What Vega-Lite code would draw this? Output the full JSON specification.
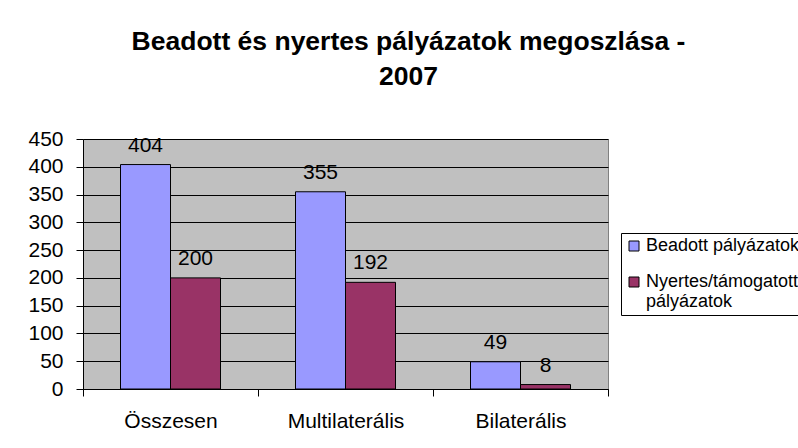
{
  "$schema": "https://vega.github.io/schema/vega-lite/v6.json",
  "width": 525,
  "height": 250,
  "autosize": {"type": "none"},
  "padding": {"left": 83, "top": 139, "right": 190, "bottom": 59},
  "background": "white",
  "title": {
    "text": ["Beadott és nyertes pályázatok megoszlása -", "2007"],
    "font": "Liberation Sans",
    "fontSize": 26.5,
    "fontWeight": "bold",
    "color": "black",
    "lineHeight": 35,
    "anchor": "middle",
    "frame": "group",
    "dx": 63,
    "offset": 38
  },
  "data": {
    "values": [
      {"kategoria": "Összesen", "sorozat": "Beadott pályázatok", "ertek": 404},
      {"kategoria": "Összesen", "sorozat": "Nyertes/támogatott pályázatok", "ertek": 200},
      {"kategoria": "Multilaterális", "sorozat": "Beadott pályázatok", "ertek": 355},
      {"kategoria": "Multilaterális", "sorozat": "Nyertes/támogatott pályázatok", "ertek": 192},
      {"kategoria": "Bilaterális", "sorozat": "Beadott pályázatok", "ertek": 49},
      {"kategoria": "Bilaterális", "sorozat": "Nyertes/támogatott pályázatok", "ertek": 8}
    ]
  },
  "encoding": {
    "x": {
      "field": "kategoria",
      "type": "nominal",
      "sort": ["Összesen", "Multilaterális", "Bilaterális"],
      "scale": {"paddingInner": 0, "paddingOuter": 0},
      "title": null,
      "axis": {
        "labelAngle": 0,
        "labelFont": "Liberation Sans",
        "labelFontSize": 21,
        "labelColor": "black",
        "labelPadding": 14,
        "tickBand": "extent",
        "tickSize": 7,
        "tickColor": "black",
        "domainColor": "black",
        "grid": false
      }
    },
    "xOffset": {
      "field": "sorozat",
      "type": "nominal",
      "sort": ["Beadott pályázatok", "Nyertes/támogatott pályázatok"],
      "scale": {"paddingInner": 0, "paddingOuter": 0.75}
    },
    "y": {
      "field": "ertek",
      "type": "quantitative",
      "scale": {"domain": [0, 450], "nice": false},
      "title": null,
      "axis": {
        "values": [0, 50, 100, 150, 200, 250, 300, 350, 400, 450],
        "labelFont": "Liberation Sans",
        "labelFontSize": 21,
        "labelColor": "black",
        "labelPadding": 13,
        "tickSize": 7,
        "tickColor": "black",
        "domainColor": "black",
        "grid": true,
        "gridColor": "black",
        "gridOpacity": 1,
        "gridWidth": 1
      }
    }
  },
  "layer": [
    {
      "mark": {"type": "bar", "stroke": "black", "strokeWidth": 1},
      "encoding": {
        "color": {
          "field": "sorozat",
          "type": "nominal",
          "sort": ["Beadott pályázatok", "Nyertes/támogatott pályázatok"],
          "scale": {"range": ["#9999FF", "#993366"]},
          "legend": {
            "title": null,
            "orient": "none",
            "legendX": 538,
            "legendY": 94,
            "strokeColor": "black",
            "fillColor": "white",
            "padding": 4,
            "symbolType": "square",
            "symbolSize": 100,
            "symbolStrokeColor": "black",
            "symbolStrokeWidth": 1,
            "symbolOpacity": 1,
            "labelFont": "Liberation Sans",
            "labelFontSize": 18,
            "labelColor": "black",
            "labelLimit": 400,
            "labelOffset": 3,
            "rowPadding": 18,
            "labelExpr": "datum.label == 'Nyertes/támogatott pályázatok' ? ['Nyertes/támogatott', 'pályázatok'] : datum.label"
          }
        }
      }
    },
    {
      "mark": {
        "type": "text",
        "dy": -13,
        "baseline": "alphabetic",
        "font": "Liberation Sans",
        "fontSize": 21,
        "color": "black"
      },
      "encoding": {
        "text": {"field": "ertek", "type": "quantitative"}
      }
    }
  ],
  "config": {
    "view": {"fill": "#C0C0C0", "stroke": "#808080", "strokeWidth": 1},
    "font": "Liberation Sans"
  }
}
